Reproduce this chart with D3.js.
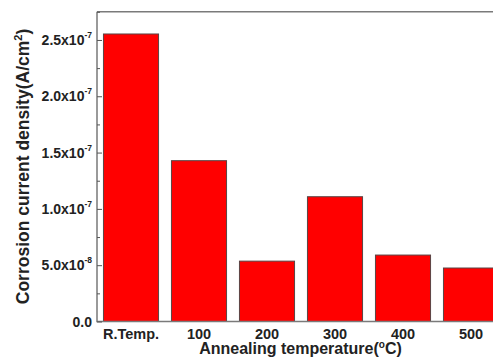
<!DOCTYPE html>
<html><head><meta charset="utf-8">
<script src="https://cdn.jsdelivr.net/npm/d3@7/dist/d3.min.js"></script>
<style>body{margin:0;background:#fff}svg{display:block}text{font-family:"Liberation Sans",Arial,sans-serif;font-weight:bold}</style>
</head><body><svg id="c" width="493" height="357"></svg>
<script>
const categories = ["R.Temp.", "100", "200", "300", "400", "500"];
const values = [2.553e-7, 1.428e-7, 0.536e-7, 1.108e-7, 0.59e-7, 0.475e-7];
const yTicks = [0, 0.5e-7, 1.0e-7, 1.5e-7, 2.0e-7, 2.5e-7];
const yTickMantissa = ["0.0", "5.0", "1.0", "1.5", "2.0", "2.5"];
const yTickExp = ["", "-8", "-7", "-7", "-7", "-7"];
const yMinor = [0.25e-7, 0.75e-7, 1.25e-7, 1.75e-7, 2.25e-7, 2.75e-7];

const svg = d3.select("#c");
const L = 97, T = 11.8, B = 321.5, R = 505;
const x = d3.scaleBand().domain(categories).range([L, R]).paddingInner(0.19).paddingOuter(0.095);
const y = d3.scaleLinear().domain([0, 2.75e-7]).range([B, T]);

svg.selectAll("rect.bar").data(values).join("rect").attr("class", "bar")
  .attr("x", (d, i) => x(categories[i])).attr("width", x.bandwidth())
  .attr("y", d => y(d)).attr("height", d => B - y(d))
  .attr("fill", "#ff0000").attr("stroke", "#5a4444").attr("stroke-width", 1);

// frame
svg.append("path").attr("d", `M${L},${T}H${R}`).attr("stroke", "#7a7a7a").attr("stroke-width", 1.5).attr("fill", "none");
svg.append("path").attr("d", `M${L},${T}V${B}H${R}`).attr("stroke", "#7a7a7a").attr("stroke-width", 1.5).attr("fill", "none");

// y ticks (inward)
const ga = svg.append("g").attr("transform", `translate(${L},0)`).call(d3.axisRight(y).tickValues(yTicks).tickSize(5).tickFormat(""));
ga.select(".domain").remove();
ga.selectAll("line").attr("stroke", "#555");
const gm = svg.append("g").attr("transform", `translate(${L},0)`).call(d3.axisRight(y).tickValues(yMinor).tickSize(3).tickFormat(""));
gm.select(".domain").remove();
gm.selectAll("line").attr("stroke", "#555");

// y tick labels
yTicks.forEach((v, i) => {
  const t = svg.append("text").attr("x", 92).attr("y", y(v) + 5).attr("text-anchor", "end").attr("font-size", 14).attr("fill", "#222");
  if (yTickExp[i]) {
    t.append("tspan").text(yTickMantissa[i] + "x10");
    t.append("tspan").attr("dy", -7).attr("font-size", 8.5).text(yTickExp[i]);
  } else {
    t.text(yTickMantissa[i]);
  }
});

// x tick labels
categories.forEach(c => {
  svg.append("text").attr("x", x(c) + x.bandwidth() / 2).attr("y", 338.5).attr("text-anchor", "middle")
    .attr("font-size", 14.5).attr("fill", "#222").text(c);
});

// x title
const xt = svg.append("text").attr("x", 300.5).attr("y", 354).attr("text-anchor", "middle").attr("font-size", 16).attr("fill", "#222");
xt.append("tspan").text("Annealing temperature(");
xt.append("tspan").attr("dy", -6).attr("font-size", 10).text("o");
xt.append("tspan").attr("dy", 6).text("C)");

// y title
const yt = svg.append("text").attr("transform", "translate(29,166.5) rotate(-90)").attr("text-anchor", "middle").attr("font-size", 17.5).attr("fill", "#222");
yt.append("tspan").text("Corrosion current density(A/cm");
yt.append("tspan").attr("dy", -7).attr("font-size", 11).text("2");
yt.append("tspan").attr("dy", 7).text(")");
</script></body></html>
